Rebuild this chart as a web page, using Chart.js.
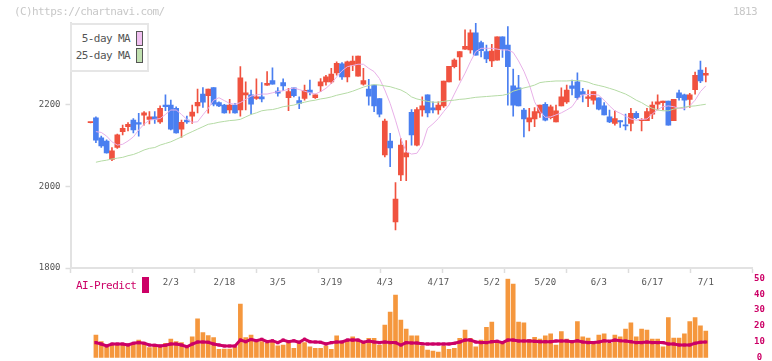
<!DOCTYPE html>
<html><head><meta charset="utf-8">
<script src="https://cdn.jsdelivr.net/npm/chart.js@4"></script>
<style>
html,body{margin:0;padding:0;background:#fff;}
#wrap{position:relative;width:772px;height:361px;overflow:hidden;font-family:"DejaVu Sans Mono",monospace;}
canvas{position:absolute;left:0;top:0;}
.t{position:absolute;white-space:nowrap;font-size:11px;letter-spacing:-0.6px;line-height:12px;}
</style></head><body>
<div id="wrap">
<canvas id="main" width="772" height="361"></canvas>
<canvas id="ai" width="772" height="375"></canvas>
<div class="t" style="left:14px;top:6px;color:#c8c8c8">(C)https://chartnavi.com/</div>
<div class="t" style="right:15px;top:6px;color:#c8c8c8">1813</div>
<div style="position:absolute;left:70px;top:23px;width:79px;height:49px;box-sizing:border-box;border:2px solid #e6e6e6;background:#fff"></div>
<div class="t" style="right:642px;top:32.5px;color:#555">5-day MA</div>
<div class="t" style="right:642px;top:49.5px;color:#555">25-day MA</div>
<div style="position:absolute;left:136px;top:31px;width:7px;height:15px;box-sizing:border-box;border:1px solid #555;background:#f0c0f0"></div>
<div style="position:absolute;left:136px;top:48px;width:7px;height:15px;box-sizing:border-box;border:1px solid #555;background:#c0e0b0"></div>
<div class="t" style="left:76px;top:280px;color:#cc0066">AI-Predict</div>
<div style="position:absolute;left:142px;top:277px;width:7px;height:16px;background:#cc0066"></div>
</div>
<script>
const opens = [2156,2168,2119,2111,2066,2095,2134,2146,2162,2156,
2174,2164,2170,2158,2199,2199,2191,2140,2162,2172,
2197,2226,2222,2242,2205,2199,2187,2199,2187,2224,
2224,2215,2219,2248,2259,2233,2254,2217,2241,2210,
2215,2236,2217,2246,2256,2256,2278,2300,2268,2297,
2270,2250,2238,2248,2215,2077,2111,1913,2028,2072,
2181,2101,2187,2224,2192,2187,2197,2256,2293,2317,
2336,2334,2376,2352,2330,2307,2309,2366,2346,2246,
2241,2187,2158,2165,2180,2201,2168,2158,2197,2207,
2246,2256,2232,2215,2211,2217,2197,2170,2154,2161,
2150,2154,2179,2161,2161,2177,2201,2205,2209,2161,
2229,2224,2213,2237,2285,2272];
const highs = [2157,2170,2123,2114,2095,2128,2150,2156,2166,2179,
2183,2183,2183,2197,2224,2211,2195,2162,2172,2199,
2238,2242,2238,2242,2207,2201,2213,2203,2293,2256,
2236,2263,2254,2281,2290,2242,2263,2240,2241,2219,
2248,2260,2226,2264,2272,2289,2305,2303,2307,2319,
2319,2289,2262,2248,2215,2165,2130,2009,2117,2112,
2188,2193,2219,2224,2207,2207,2258,2294,2312,2330,
2383,2383,2399,2356,2346,2348,2366,2366,2391,2287,
2272,2191,2191,2193,2199,2205,2199,2199,2241,2248,
2260,2278,2240,2236,2232,2217,2205,2187,2185,2161,
2177,2191,2183,2166,2191,2207,2224,2209,2209,2213,
2236,2226,2228,2280,2307,2291];
const lows = [2155,2107,2095,2081,2063,2093,2126,2136,2131,2123,
2150,2153,2154,2154,2185,2138,2130,2120,2154,2154,
2180,2193,2179,2197,2195,2179,2179,2179,2172,2187,
2177,2213,2207,2247,2250,2221,2234,2185,2219,2190,
2211,2224,2215,2232,2248,2252,2272,2262,2256,2283,
2270,2248,2199,2183,2170,2072,2048,1893,2014,2014,
2101,2099,2172,2170,2180,2177,2193,2256,2290,2260,
2335,2326,2321,2317,2303,2293,2309,2316,2199,2172,
2197,2121,2136,2146,2169,2160,2165,2158,2197,2203,
2224,2213,2207,2195,2201,2187,2175,2156,2150,2144,
2138,2136,2166,2136,2161,2166,2187,2187,2150,2161,
2211,2187,2193,2226,2254,2256];
const closes = [2156,2113,2099,2082,2087,2126,2142,2152,2138,2152,
2180,2170,2164,2191,2195,2140,2131,2157,2158,2182,
2206,2206,2238,2201,2197,2180,2199,2180,2266,2229,
2201,2219,2214,2252,2250,2228,2246,2232,2222,2203,
2235,2230,2224,2256,2268,2275,2301,2268,2305,2307,
2319,2259,2221,2197,2177,2160,2094,1969,2101,2082,
2126,2188,2197,2180,2187,2199,2258,2294,2309,2330,
2343,2376,2321,2332,2312,2331,2366,2336,2293,2199,
2197,2165,2168,2183,2199,2162,2195,2185,2219,2236,
2240,2217,2225,2219,2232,2189,2175,2158,2166,2158,
2148,2179,2168,2162,2183,2199,2207,2209,2150,2213,
2217,2211,2224,2272,2258,2277];
const ma5 = [null,2134,2132,2123,2109,2101,2103,2111,2121,2138,
2152,2162,2164,2166,2176,2187,2187,2176,2164,2157,
2158,2175,2191,2211,2217,2210,2203,2201,2205,2213,
2221,2224,2226,2226,2229,2232,2234,2238,2241,2237,
2233,2229,2226,2232,2240,2252,2268,2283,2293,2296,
2299,2299,2289,2281,2264,2236,2203,2162,2117,2085,
2079,2081,2101,2142,2153,2166,2183,2199,2226,2252,
2277,2305,2330,2338,2338,2338,2336,2334,2334,2328,
2307,2282,2250,2207,2183,2169,2170,2175,2180,2187,
2195,2214,2224,2225,2225,2223,2211,2197,2185,2179,
2172,2165,2162,2164,2165,2177,2188,2195,2197,2195,
2191,2191,2197,2211,2232,2246];
const ma25 = [null,2059,2062,2064,2067,2069,2071,2075,2078,2083,
2089,2093,2095,2101,2105,2109,2115,2121,2128,2134,
2140,2146,2152,2154,2157,2159,2161,2162,2164,2170,
2176,2180,2185,2187,2188,2191,2195,2197,2199,2203,
2206,2209,2211,2214,2216,2219,2223,2226,2229,2233,
2238,2243,2247,2249,2248,2246,2244,2240,2236,2229,
2219,2214,2211,2208,2206,2206,2208,2210,2211,2213,
2214,2216,2218,2219,2220,2221,2222,2223,2226,2233,
2237,2241,2244,2248,2254,2256,2257,2258,2258,2258,
2259,2259,2258,2255,2250,2247,2244,2240,2236,2231,
2226,2219,2211,2205,2197,2191,2187,2185,2185,2189,
2192,2194,2196,2197,2199,2201];
const aiBars = [null,14.3,10.1,7.4,8.6,9.1,9.1,8.6,9.1,11.1,
9.5,6.3,7.4,8.0,9.1,11.8,10.1,9.5,6.9,13.2,
24.4,15.8,13.9,12.6,5.3,5.5,5.5,6.9,33.8,12.6,
14.3,10.3,10.1,9.1,10.1,7.4,8.0,10.1,5.9,9.1,
9.5,6.9,5.9,5.9,7.4,5.3,13.7,9.5,10.1,13.2,
11.1,9.1,12.2,12.2,8.0,20.6,28.8,39.5,23.7,18.1,
13.7,13.7,7.4,4.8,4.2,3.6,7.4,5.3,5.9,12.2,
17.4,12.2,6.9,11.1,19.1,22.5,10.1,9.1,49.5,46.4,
22.5,22.0,11.6,12.8,11.8,13.7,15.1,8.0,16.4,11.8,
10.1,22.7,13.2,12.4,10.1,14.3,15.1,9.1,14.3,13.2,
18.1,22.0,13.2,18.1,17.4,11.8,11.8,6.9,25.2,12.4,
12.4,15.1,22.7,25.2,20.0,16.8];
const aiLine = [null,9.5,8.6,7.4,8.6,8.6,8.6,8.0,9.1,9.5,
9.1,8.0,7.8,7.4,7.8,8.6,8.6,8.0,6.9,8.6,
9.9,9.9,9.7,8.6,8.0,7.4,7.4,7.4,11.1,10.1,
11.5,10.7,11.6,10.1,10.7,9.5,11.1,10.1,10.7,9.7,
11.6,10.1,9.9,9.7,8.6,9.5,9.9,9.9,11.1,11.1,
11.1,9.7,10.5,9.9,9.5,9.9,9.5,9.5,8.0,9.5,
9.3,9.3,8.8,8.6,8.6,8.6,8.6,8.6,9.1,9.9,
11.1,11.1,9.9,9.5,9.5,10.1,10.3,9.5,11.1,11.1,
10.5,10.5,10.5,10.3,10.1,10.1,10.1,10.5,10.5,10.5,
10.1,10.7,9.9,9.5,9.5,9.9,10.7,10.3,11.1,10.7,
10.5,10.1,9.5,9.5,9.9,9.5,9.5,9.5,8.6,8.6,
8.0,8.0,8.0,9.1,9.7,9.9];
const tickLabels = ['2/3','2/18','3/5','3/19','4/3','4/17','5/2','5/20','6/3','6/17','7/1'];
const tickIndex = [15,25,35,45,55,65,75,85,95,105,115];
const priceTicks = [1800,2000,2200];

const X_MIN = -3.75, X_MAX = 123.73, MARK_STEP = (X_MAX - X_MIN) / 11;
const FONT = '"DejaVu Sans Mono", monospace';
const RED = '#f0523f', BLUE = '#4a7ff0';
const up = closes.map((c,i)=> c >= opens[i]);
const candleColors = up.map(u => u ? RED : BLUE);
const pts = arr => arr.map((v,i)=>({x:i,y:v}));
const markValues = Array.from({length:12},(_,k)=> X_MIN + k*MARK_STEP);

new Chart(document.getElementById('main'), {
  data: {
    datasets: [
      {type:'line', data: pts(ma25), borderColor:'#b5dba5', borderWidth:1, pointRadius:0, order:0, spanGaps:false},
      {type:'line', data: pts(ma5), borderColor:'#e8b0e8', borderWidth:1, pointRadius:0, order:0, spanGaps:false},
      {type:'bar', data: lows.map((l,i)=>({x:i,y:[l,highs[i]]})), backgroundColor:candleColors, barThickness:1, grouped:false, order:2},
      {type:'bar', data: opens.map((o,i)=>({x:i,y:[Math.min(o,closes[i]),Math.max(o,closes[i])]})), backgroundColor:candleColors, barThickness:5, minBarLength:1, grouped:false, order:1}
    ]
  },
  options: {
    responsive:false, animation:false, events:[],
    plugins:{legend:{display:false}, tooltip:{enabled:false}},
    layout:{padding:{left:0, right:19.5, top:23, bottom:0}},
    scales:{
      x:{type:'linear', position:'bottom', min:X_MIN, max:X_MAX, offset:false,
        afterBuildTicks: s => {
          const t = markValues.map(v=>({value:v, mark:true}));
          tickIndex.forEach((v,k)=> t.push({value:v, mark:false, lab:tickLabels[k]}));
          t.sort((a,b)=>a.value-b.value);
          s.ticks = t;
        },
        afterFit: s => { s.height = 361 - 268; },
        grid:{offset:false, drawOnChartArea:false, drawTicks:true, tickLength:5, tickWidth:1.5,
          tickColor: ctx => (ctx.tick && ctx.tick.mark) ? '#dddddd' : 'rgba(0,0,0,0)'},
        border:{display:true, color:'#e2e2e2', width:2},
        ticks:{autoSkip:false, maxRotation:0, minRotation:0, padding:4, color:'#555',
          font:{family:FONT, size:9},
          callback:(v,i,t)=> (t[i] && t[i].lab) ? t[i].lab : ''}
      },
      y:{type:'linear', position:'left', min:1800, max:2400,
        afterBuildTicks: s => { s.ticks = priceTicks.map(v=>({value:v})); },
        afterFit: s => { s.width = 70.5; },
        grid:{drawOnChartArea:false, tickLength:5, tickWidth:1.5, tickColor:'#dddddd'},
        border:{display:true, color:'#e2e2e2', width:2},
        ticks:{padding:5, color:'#555', font:{family:FONT, size:9}, callback: v => String(v)}
      }
    }
  }
});

new Chart(document.getElementById('ai'), {
  data: {
    datasets: [
      {type:'line', data: pts(aiLine), borderColor:'#cc0066', borderWidth:3, pointStyle:'rect', pointRadius:2.2, pointBackgroundColor:'#cc0066', pointBorderWidth:0, order:0},
      {type:'bar', data: pts(aiBars), backgroundColor:'#f5973d', barThickness:4, grouped:false, order:1}
    ]
  },
  options: {
    responsive:false, animation:false, events:[],
    plugins:{legend:{display:false}, tooltip:{enabled:false}},
    layout:{padding:{left:70.5, right:0, top:278.3, bottom:375-357.7}},
    scales:{
      x:{type:'linear', min:X_MIN, max:X_MAX, display:false, offset:false, grid:{offset:false}},
      y:{type:'linear', position:'right', min:0, max:50,
        afterFit: s => { s.width = 772 - 752.5; },
        grid:{display:false, drawTicks:false},
        border:{display:false},
        ticks:{stepSize:10, padding:1.5, crossAlign:'center', color:'#cc0066', font:{family:FONT, size:9, weight:'bold'}}
      }
    }
  }
});
</script>
</body></html>
